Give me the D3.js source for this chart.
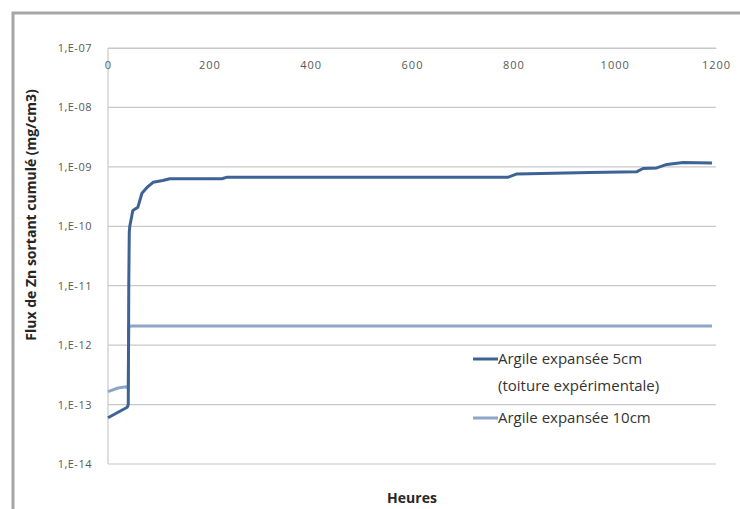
<!DOCTYPE html>
<html>
<head>
<meta charset="utf-8">
<script src="https://cdn.jsdelivr.net/npm/d3@7"></script>
<style>
html,body{margin:0;padding:0;background:#fff;}
svg{display:block;}
</style>
</head>
<body>
<svg id="chart" width="740" height="509"></svg>
<script>
// ---- data ----
const xTicks = [0, 200, 400, 600, 800, 1000, 1200];
const yTicks = [1e-7, 1e-8, 1e-9, 1e-10, 1e-11, 1e-12, 1e-13, 1e-14];
const yTickLabels = ["1,E-07","1,E-08","1,E-09","1,E-10","1,E-11","1,E-12","1,E-13","1,E-14"];

const series1Name = "Argile expansée 5cm";
const series1Name2 = "(toiture expérimentale)";
const series1Hours = [0, 38, 40, 41, 42, 43, 49, 59, 67, 77, 89, 108, 122, 225, 235, 790, 807, 951, 1044, 1056, 1083, 1103, 1135, 1192];
const series1Values = [6e-14, 9e-14, 1e-13, 1e-11, 8e-11, 1e-10, 1.85e-10, 2.1e-10, 3.6e-10, 4.5e-10, 5.5e-10, 5.9e-10, 6.3e-10, 6.3e-10, 6.7e-10, 6.7e-10, 7.6e-10, 8e-10, 8.3e-10, 9.4e-10, 9.6e-10, 1.1e-9, 1.18e-9, 1.16e-9];

const series2Name = "Argile expansée 10cm";
const series2Hours = [0, 20, 36, 39, 40, 41, 45, 1192];
const series2Values = [1.65e-13, 1.9e-13, 2.0e-13, 1.9e-13, 1.9e-13, 2.0e-12, 2.1e-12, 2.1e-12];

const xLabel = "Heures";
const yLabel = "Flux de Zn sortant cumulé (mg/cm3)";

// ---- layout ----
const svg = d3.select("#chart");
const plot = {left: 108, right: 716, top: 48, bottom: 464};
const ff = "'Open Sans', 'Liberation Sans', Arial, sans-serif";

// outer frame
svg.append("rect").attr("x", 13).attr("y", 13).attr("width", 740).attr("height", 520)
  .attr("fill", "#fff").attr("stroke", "#a6a6a6").attr("stroke-width", 3);

const x = d3.scaleLinear().domain([0, 1200]).range([plot.left, plot.right]);
const y = d3.scaleLog().domain([1e-14, 1e-7]).range([plot.bottom, plot.top]);

// gridlines
svg.append("g").selectAll("line").data(yTicks).join("line")
  .attr("x1", plot.left).attr("x2", plot.right)
  .attr("y1", d => y(d)).attr("y2", d => y(d))
  .attr("stroke", "#c8c8c8").attr("stroke-width", 1.2);

// y axis line
svg.append("line").attr("x1", plot.left).attr("x2", plot.left)
  .attr("y1", plot.top).attr("y2", plot.bottom)
  .attr("stroke", "#c8c8c8").attr("stroke-width", 1.2);

// x axis at top (at 1e-7)
const xAxis = d3.axisBottom(x).tickValues(xTicks).tickSize(0).tickPadding(13).tickFormat(d3.format("d"));
const gx = svg.append("g").attr("transform", `translate(0,${plot.top})`).call(xAxis);
gx.select(".domain").attr("stroke", "#c8c8c8").attr("stroke-width", 1.2);
gx.selectAll("text").attr("font-family", ff)
  .attr("font-size", 11).attr("letter-spacing", 1).attr("fill", "#595959");

// y axis labels
const yAxis = d3.axisLeft(y).tickValues(yTicks).tickSize(0).tickPadding(16)
  .tickFormat((d, i) => yTickLabels[i]);
const gy = svg.append("g").attr("transform", `translate(${plot.left},0)`).call(yAxis);
gy.select(".domain").remove();
gy.selectAll("text").attr("font-family", ff)
  .attr("font-size", 11).attr("letter-spacing", 0.5).attr("fill", "#595959");

// lines
const line = d3.line().x(d => x(d[0])).y(d => y(d[1])).curve(d3.curveLinear);
const s1 = series1Hours.map((h, i) => [h, series1Values[i]]);
const s2 = series2Hours.map((h, i) => [h, series2Values[i]]);

svg.append("path").datum(s2).attr("d", line).attr("fill", "none")
  .attr("stroke", "#8da5c6").attr("stroke-width", 3).attr("stroke-linejoin", "round");
svg.append("path").datum(s1).attr("d", line).attr("fill", "none")
  .attr("stroke", "#3d6395").attr("stroke-width", 3).attr("stroke-linejoin", "round");

// axis titles
svg.append("text").attr("x", 412).attr("y", 503).attr("text-anchor", "middle")
  .attr("font-family", ff).attr("font-weight", "bold")
  .attr("font-size", 14).attr("fill", "#262626").text(xLabel);

svg.append("text").attr("transform", "translate(36,215) rotate(-90)").attr("text-anchor", "middle")
  .attr("font-family", ff).attr("font-weight", "bold")
  .attr("font-size", 14).attr("fill", "#262626").text(yLabel);

// legend
const lg = svg.append("g");
lg.append("line").attr("x1", 473).attr("x2", 498).attr("y1", 359).attr("y2", 359)
  .attr("stroke", "#3d6395").attr("stroke-width", 3);
lg.append("text").attr("x", 498).attr("y", 364).attr("font-family", ff).attr("font-size", 15)
  .attr("fill", "#333").text(series1Name);
lg.append("text").attr("x", 498).attr("y", 391).attr("font-family", ff).attr("font-size", 15)
  .attr("fill", "#333").text(series1Name2);
lg.append("line").attr("x1", 473).attr("x2", 498).attr("y1", 418).attr("y2", 418)
  .attr("stroke", "#8da5c6").attr("stroke-width", 3);
lg.append("text").attr("x", 498).attr("y", 423).attr("font-family", ff).attr("font-size", 15)
  .attr("fill", "#333").text(series2Name);
</script>
</body>
</html>
